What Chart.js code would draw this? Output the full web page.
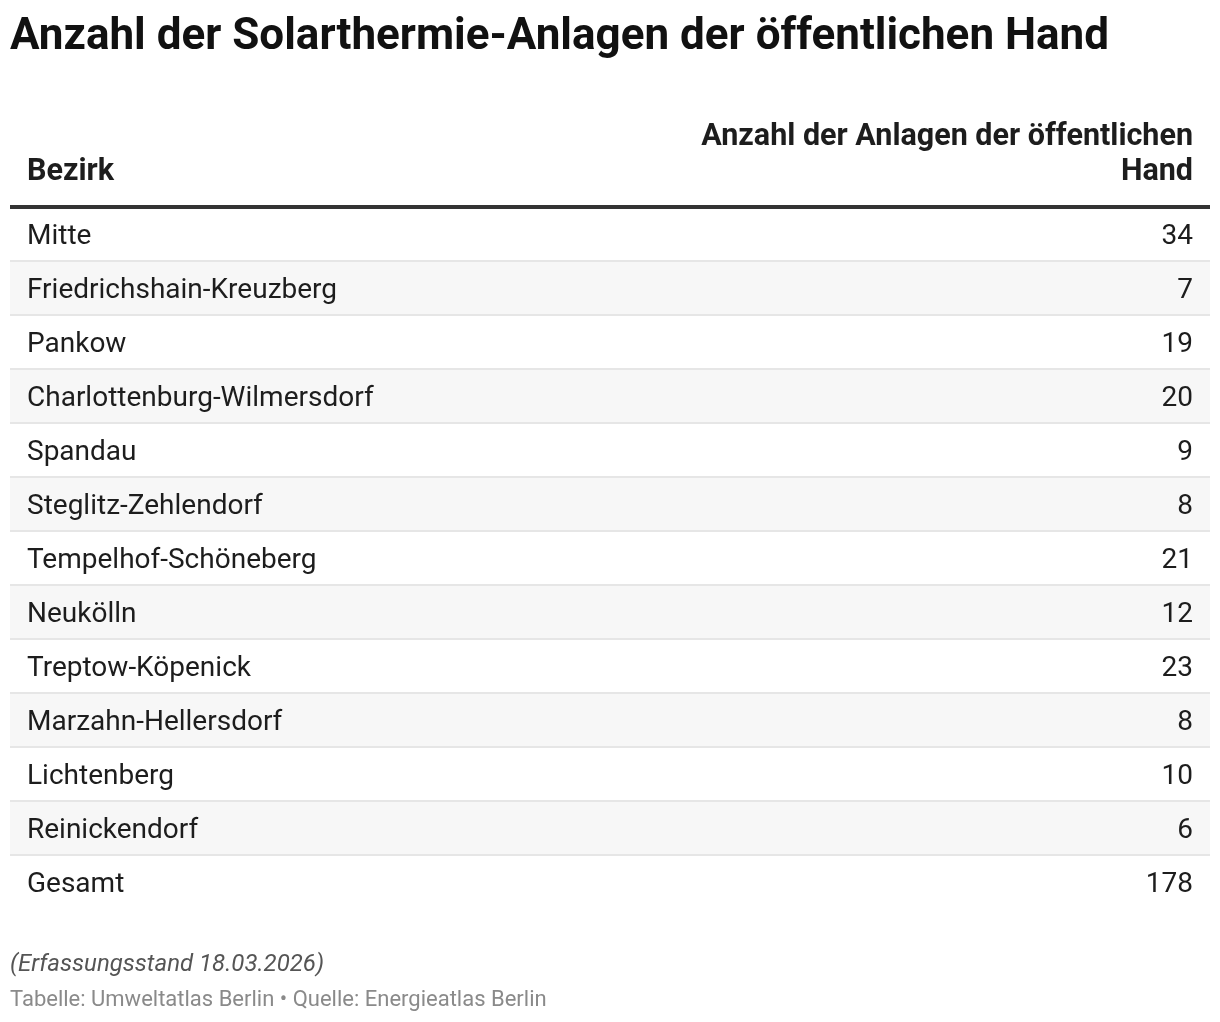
<!DOCTYPE html>
<html>
<head>
<meta charset="utf-8">
<script src="https://cdn.jsdelivr.net/npm/chart.js@4"></script>
<style>
  html, body { margin: 0; padding: 0; background: #ffffff; }
  #wrap { width: 1220px; height: 1022px; position: relative; }
  canvas { display: block; }
</style>
</head>
<body>
<div id="wrap"><canvas id="c" width="1220" height="1022"></canvas></div>
<script>
const titleText = "Anzahl der Solarthermie-Anlagen der öffentlichen Hand";
const headerLeft = "Bezirk";
const headerRight = ["Anzahl der Anlagen der öffentlichen", "Hand"];
const districts = [
  "Mitte", "Friedrichshain-Kreuzberg", "Pankow", "Charlottenburg-Wilmersdorf",
  "Spandau", "Steglitz-Zehlendorf", "Tempelhof-Schöneberg", "Neukölln",
  "Treptow-Köpenick", "Marzahn-Hellersdorf", "Lichtenberg", "Reinickendorf", "Gesamt"
];
const counts = [34, 7, 19, 20, 9, 8, 21, 12, 23, 8, 10, 6, 178];
const noteText = "(Erfassungsstand 18.03.2026)";
const sourceText = "Tabelle: Umweltatlas Berlin • Quelle: Energieatlas Berlin";

const FONT = "Roboto, 'Open Sans', sans-serif";
const countLabels = counts.map(v => String(v));

const tablePlugin = {
  id: 'tablePlugin',
  beforeDraw(chart) {
    const ctx = chart.ctx;
    const ys = chart.scales.y;
    const area = chart.chartArea;
    ctx.save();
    ctx.fillStyle = '#ffffff';
    ctx.fillRect(0, 0, chart.width, chart.height);
    for (let i = 0; i < districts.length; i++) {
      if (i % 2 === 1 && i < districts.length - 1) {
        const top = (ys.getPixelForValue(i - 1) + ys.getPixelForValue(i)) / 2;
        const bot = (ys.getPixelForValue(i) + ys.getPixelForValue(i + 1)) / 2;
        ctx.fillStyle = '#f7f7f7';
        ctx.fillRect(area.left, top, area.right - area.left, bot - top);
      }
    }
    ctx.restore();
  },
  afterDraw(chart) {
    const ctx = chart.ctx;
    const area = chart.chartArea;
    ctx.save();
    ctx.fillStyle = '#1d1d1d';
    ctx.font = "bold 30.5px " + FONT;
    ctx.textBaseline = 'alphabetic';
    ctx.textAlign = 'left';
    ctx.fillText(headerLeft, area.left + 17, 180);
    ctx.textAlign = 'right';
    ctx.fillText(headerRight[0], area.right - 17, 145);
    ctx.fillText(headerRight[1], area.right - 17, 180);
    ctx.textAlign = 'left';
    ctx.fillStyle = '#555555';
    ctx.font = "italic 24px " + FONT;
    ctx.fillText(noteText, 10, 971);
    ctx.fillStyle = '#8a8a8a';
    ctx.font = "22px " + FONT;
    ctx.fillText(sourceText, 10, 1006);
    ctx.restore();
  }
};

new Chart(document.getElementById('c'), {
  type: 'bar',
  data: {
    labels: districts,
    datasets: [{
      label: 'Anzahl der Anlagen der öffentlichen Hand',
      data: counts,
      backgroundColor: 'rgba(0,0,0,0)',
      borderWidth: 0,
      yAxisID: 'y'
    }]
  },
  options: {
    indexAxis: 'y',
    responsive: false,
    animation: false,
    devicePixelRatio: 1,
    layout: { padding: { top: 0, bottom: 113, left: 10, right: 10 } },
    plugins: {
      legend: { display: false },
      tooltip: { enabled: false },
      title: {
        display: true,
        text: titleText,
        align: 'start',
        color: '#111111',
        font: { family: FONT, size: 44, weight: 'bold', lineHeight: 1.2 },
        padding: { top: 12, bottom: 141.7 }
      }
    },
    scales: {
      x: { display: false, beginAtZero: true },
      y: {
        type: 'category',
        position: 'left',
        offset: true,
        border: { display: false },
        afterFit: (s) => { s.width = 0; },
        grid: {
          offset: true,
          drawTicks: false,
          color: (c) => c.index === 0 ? '#333333' : (c.index === undefined || c.index >= districts.length ? 'rgba(0,0,0,0)' : '#e6e6e6'),
          lineWidth: (c) => c.index === 0 ? 4 : 2
        },
        ticks: {
          mirror: true,
          padding: 17,
          labelOffset: 3,
          color: '#1d1d1d',
          font: { family: FONT, size: 28 }
        }
      },
      yv: {
        type: 'category',
        labels: countLabels,
        position: 'right',
        offset: true,
        border: { display: false },
        afterFit: (s) => { s.width = 0; },
        grid: { display: false, drawTicks: false },
        ticks: {
          mirror: true,
          padding: -17,
          labelOffset: 3,
          color: '#1d1d1d',
          font: { family: FONT, size: 28 }
        }
      }
    }
  },
  plugins: [tablePlugin]
});
</script>
</body>
</html>
